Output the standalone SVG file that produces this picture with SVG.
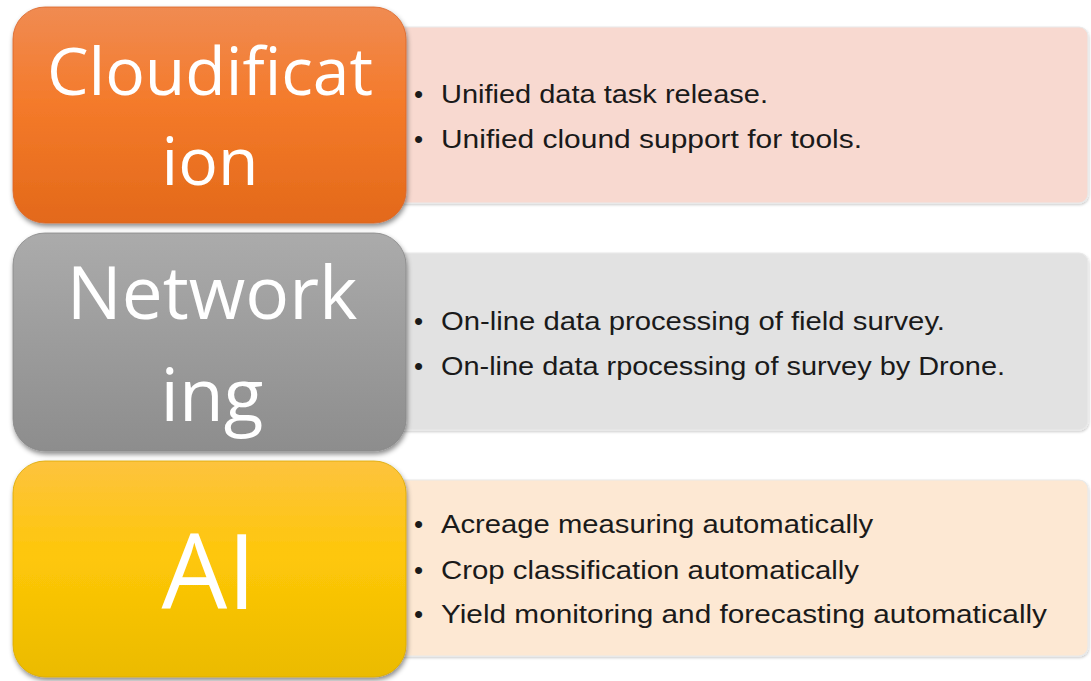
<svg xmlns="http://www.w3.org/2000/svg" width="1091" height="681" viewBox="0 0 1091 681">
<style>
.head{font-family:"Open Sans","Noto Sans",sans-serif;fill:#ffffff;text-anchor:middle}
.item{font-family:"Liberation Sans",Arial,sans-serif;font-size:25px;fill:#1a1a1a}
.bul{font-family:"Liberation Sans",Arial,sans-serif;font-size:26px;fill:#1a1a1a}
.panel{stroke:#e9e9e9;stroke-width:1.2}
</style>
<defs>
<linearGradient id="gOrange" x1="0" y1="0" x2="0" y2="1">
<stop offset="0" stop-color="#F08B52"/>
<stop offset="0.45" stop-color="#F47A2A"/>
<stop offset="1" stop-color="#E3691A"/>
</linearGradient>
<linearGradient id="gGray" x1="0" y1="0" x2="0" y2="1">
<stop offset="0" stop-color="#ABABAB"/>
<stop offset="1" stop-color="#8D8D8D"/>
</linearGradient>
<linearGradient id="gYellow" x1="0" y1="0" x2="0" y2="1">
<stop offset="0" stop-color="#FDC33E"/>
<stop offset="0.45" stop-color="#FEC708"/>
<stop offset="1" stop-color="#EBBB00"/>
</linearGradient>
<filter id="shBox" x="-10%" y="-10%" width="125%" height="130%">
<feDropShadow dx="1" dy="3" stdDeviation="2.5" flood-color="#000" flood-opacity="0.45"/>
</filter>
<filter id="shPanel" x="-5%" y="-10%" width="110%" height="125%">
<feDropShadow dx="0.5" dy="1.5" stdDeviation="1.2" flood-color="#000" flood-opacity="0.2"/>
</filter>
</defs>
<rect width="1091" height="681" fill="#ffffff"/>

<g id="panel-cloud">
<rect class="panel" x="380" y="27" width="708" height="176" rx="9" fill="#F8D9D0" filter="url(#shPanel)"/>
<text class="bul" x="414" y="103">•</text>
<text class="item" x="441" y="103" textLength="327" lengthAdjust="spacingAndGlyphs">Unified data task release.</text>
<text class="bul" x="414" y="148">•</text>
<text class="item" x="441" y="148" textLength="421" lengthAdjust="spacingAndGlyphs">Unified clound support for tools.</text>
</g>
<g id="panel-network">
<rect class="panel" x="380" y="253" width="708" height="177" rx="9" fill="#E2E2E2" filter="url(#shPanel)"/>
<text class="bul" x="414" y="330">•</text>
<text class="item" x="441" y="330" textLength="504" lengthAdjust="spacingAndGlyphs">On-line data processing of field survey.</text>
<text class="bul" x="414" y="375">•</text>
<text class="item" x="441" y="375" textLength="564" lengthAdjust="spacingAndGlyphs">On-line data rpocessing of survey by Drone.</text>
</g>
<g id="panel-ai">
<rect class="panel" x="380" y="480" width="708" height="176" rx="9" fill="#FDE8D3" filter="url(#shPanel)"/>
<text class="bul" x="414" y="533">•</text>
<text class="item" x="441" y="533" textLength="432" lengthAdjust="spacingAndGlyphs">Acreage measuring automatically</text>
<text class="bul" x="414" y="579">•</text>
<text class="item" x="441" y="579" textLength="418" lengthAdjust="spacingAndGlyphs">Crop classification automatically</text>
<text class="bul" x="414" y="623">•</text>
<text class="item" x="441" y="623" textLength="606" lengthAdjust="spacingAndGlyphs">Yield monitoring and forecasting automatically</text>
</g>

<g id="node-cloudification">
<rect x="13" y="7" width="393" height="216" rx="32" fill="url(#gOrange)" stroke="#d9662a" stroke-width="0.8" filter="url(#shBox)"/>
<text class="head" x="210" y="95" font-size="66">Cloudificat</text>
<text class="head" x="210" y="185" font-size="66">ion</text>
</g>
<g id="node-networking">
<rect x="13" y="233" width="393" height="218" rx="32" fill="url(#gGray)" stroke="#888888" stroke-width="0.8" filter="url(#shBox)"/>
<text class="head" x="212" y="319" font-size="73">Network</text>
<text class="head" x="212" y="421" font-size="73">ing</text>
</g>
<g id="node-ai">
<rect x="13" y="461" width="393" height="216" rx="32" fill="url(#gYellow)" stroke="#d9a800" stroke-width="0.8" filter="url(#shBox)"/>
<text class="head" x="209" y="609" font-size="104">AI</text>
</g>
<g id="connectors"/>
</svg>
